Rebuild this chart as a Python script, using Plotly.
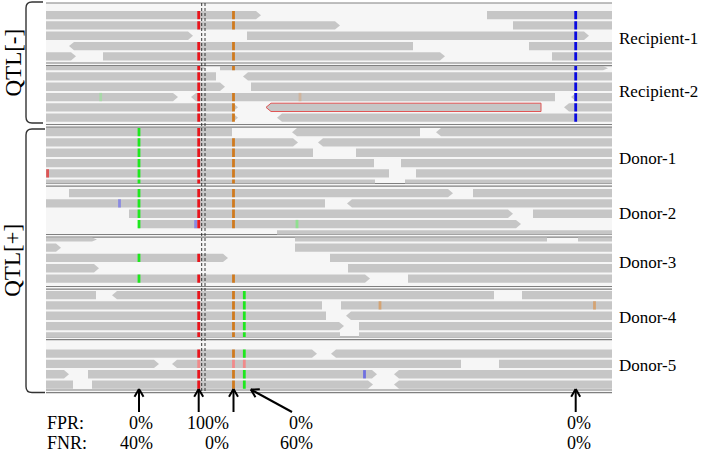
import math
import plotly.graph_objects as go

# ---------------- data ----------------
samples = ["Recipient-1", "Recipient-2", "Donor-1", "Donor-2", "Donor-3", "Donor-4", "Donor-5"]
groups = ["QTL[-]", "QTL[+]"]
group_members = [["Recipient-1", "Recipient-2"], ["Donor-1", "Donor-2", "Donor-3", "Donor-4", "Donor-5"]]

# reads per sample: rows of (start, end, strand); '+' arrow right, '-' arrow left, '' no arrow
reads = {
    "Recipient-1": [
        [(46, 261, '+'), (487, 612, '')],
        [(46, 340, '+'), (513, 612, '')],
        [(46, 193, '+'), (247, 589, '+')],
        [(69, 413, '-'), (529, 612, '')],
        [(46, 76, '+'), (103, 445, '+'), (552, 612, '')],
    ],
    "Recipient-2": [
        [(46, 206, '+'), (220, 608, '+')],
        [(46, 216, ''), (243, 612, '-')],
        [(46, 225, '+'), (251, 612, '')],
        [(46, 178, '+'), (191, 555, '-'), (571, 612, '-')],
        [(46, 238, '+'), (266, 541, '-'), (564, 612, '-')],
        [(46, 238, '+'), (277, 612, '-')],
    ],
    "Donor-1": [
        [(46, 232, ''), (292, 420, '-'), (436, 612, '-')],
        [(46, 298, '+'), (318, 612, '-')],
        [(46, 313, ''), (356, 612, '')],
        [(46, 374, ''), (401, 612, '')],
        [(46, 389, ''), (416, 612, '')],
        [(46, 375, ''), (405, 612, '')],
    ],
    "Donor-2": [
        [(69, 453, '+'), (473, 612, '')],
        [(46, 325, ''), (347, 612, '-')],
        [(129, 513, '+'), (533, 612, '')],
        [(138, 521, '+')],
        [(277, 612, '')],
    ],
    "Donor-3": [
        [(46, 97, '+'), (295, 547, ''), (578, 612, '')],
        [(46, 61, '+'), (295, 612, '')],
        [(46, 228, '+'), (330, 612, '')],
        [(46, 99, '+'), (348, 612, '')],
        [(46, 370, '+'), (408, 612, '')],
    ],
    "Donor-4": [
        [(46, 96, ''), (112, 494, '-'), (522, 612, '')],
        [(46, 322, ''), (341, 612, '')],
        [(46, 326, ''), (346, 612, '-')],
        [(46, 344, '+'), (359, 612, '')],
        [(46, 340, ''), (359, 612, '')],
    ],
    "Donor-5": [
        [(46, 317, '+'), (331, 612, '-')],
        [(46, 159, '+'), (172, 461, '-'), (499, 612, '')],
        [(46, 69, '+'), (88, 377, '+'), (394, 612, '-')],
        [(46, 73, ''), (92, 373, '+'), (394, 612, '-')],
    ],
}
# reads drawn with a red outline: (sample, row, read index)
outlined_reads = [("Recipient-2", 4, 1)]

# candidate variant columns
variant_pos = [139.0, 198.7, 233.5, 244.3, 575.7]
variant_colors = ["#1ee81e", "#e8141c", "#cf7a1f", "#1ee81e", "#0a0ae0"]
variant_samples = [
    ["Donor-1", "Donor-2", "Donor-3"],
    samples,
    samples,
    ["Donor-4", "Donor-5"],
    ["Recipient-1", "Recipient-2"],
]
variant_override = {("Donor-5", 1, 1): "#f08a8a"}

# isolated mismatches: (sample, row, position, colour)
extra_mismatches = [
    ("Recipient-2", 3, 100.7, "#a8d8a8"),
    ("Recipient-2", 3, 300.0, "#d0b49c"),
    ("Donor-1", 4, 47.6, "#dd5555"),
    ("Donor-2", 1, 119.5, "#8a8ae0"),
    ("Donor-2", 3, 195.6, "#8a8ae0"),
    ("Donor-2", 3, 297.0, "#8fe08f"),
    ("Donor-4", 1, 380.0, "#d4a373"),
    ("Donor-4", 1, 594.5, "#d4a373"),
    ("Donor-5", 2, 364.5, "#7070e0"),
]

# error rates at the annotated columns
rate_variant = [0, 1, 2, 3, 4]
fpr = ["0%", "100%", "0%", "0%"]
fnr = ["40%", "0%", "60%", "0%"]

# ---------------- layout helpers ----------------
PX0, PX1 = 46, 612
PITCH, ROW_H = 10.3, 8.3
first_row_top = {"Recipient-1": 11.0, "Recipient-2": 62.0, "Donor-1": 128.0, "Donor-2": 189.0,
                 "Donor-3": 233.2, "Donor-4": 291.0, "Donor-5": 349.5}
separators = [63.0, 124.5, 183.5, 234.5, 286.5, 337.0, 390.0]
TOP_LINE = 3.0
track_bounds = {}
prev = TOP_LINE + 0.5
for s, sep in zip(samples, separators):
    track_bounds[s] = (prev, sep)
    prev = sep + 3.0
label_y = {"Recipient-1": 38.5, "Recipient-2": 91.5, "Donor-1": 158, "Donor-2": 213.5,
           "Donor-3": 262.5, "Donor-4": 317.5, "Donor-5": 365.5}

READ_GRAY = "#c6c6c6"
BG = "#f6f6f6"
SEP = "#808080"


def row_span(s, r):
    y0 = first_row_top[s] + r * PITCH
    y1 = y0 + ROW_H
    lo, hi = track_bounds[s]
    return max(y0, lo), min(y1, hi)


def read_poly(x0, x1, strand, y0, y1):
    ym = (y0 + y1) / 2
    t = 5
    if strand == '+':
        pts = [(x0, y0), (x1 - t, y0), (x1, ym), (x1 - t, y1), (x0, y1)]
    elif strand == '-':
        pts = [(x0 + t, y0), (x1, y0), (x1, y1), (x0 + t, y1), (x0, ym)]
    else:
        pts = [(x0, y0), (x1, y0), (x1, y1), (x0, y1)]
    return pts


def add_polys(xs, ys, pts):
    for (a, b) in pts + [pts[0]]:
        xs.append(a)
        ys.append(b)
    xs.append(None)
    ys.append(None)


fig = go.Figure()

# panel background
fig.add_shape(type="rect", x0=PX0, x1=PX1, y0=TOP_LINE, y1=separators[-1] + 3,
              xref="x", yref="y", fillcolor=BG, line_width=0, layer="below")

# separators (below the reads; reads are clipped to their tracks)
fig.add_shape(type="line", x0=PX0, x1=PX1, y0=TOP_LINE, y1=TOP_LINE, xref="x", yref="y",
              line=dict(color=SEP, width=1.2), layer="below")
for sep in separators:
    for dy in (0, 2.6):
        fig.add_shape(type="line", x0=PX0, x1=PX1, y0=sep + dy, y1=sep + dy, xref="x", yref="y",
                      line=dict(color=SEP, width=1.1), layer="below")

# reads
rx, ry = [], []
ox, oy = [], []
for s in samples:
    for r, row in enumerate(reads[s]):
        y0, y1 = row_span(s, r)
        for k, (a, b, st) in enumerate(row):
            pts = read_poly(a, b, st, y0, y1)
            if (s, r, k) in outlined_reads:
                add_polys(ox, oy, pts)
            else:
                add_polys(rx, ry, pts)
fig.add_trace(go.Scatter(x=rx, y=ry, mode="lines", fill="toself", fillcolor=READ_GRAY,
                         line=dict(width=0, color=READ_GRAY), hoverinfo="skip"))
fig.add_trace(go.Scatter(x=ox, y=oy, mode="lines", fill="toself", fillcolor=READ_GRAY,
                         line=dict(width=1, color="#e05555"), hoverinfo="skip"))

# mismatches
BASE_W = 2.8
mm = {}
for pos, col, sset in zip(variant_pos, variant_colors, variant_samples):
    for s in sset:
        for r, row in enumerate(reads[s]):
            y0, y1 = row_span(s, r)
            for k, (a, b, st) in enumerate(row):
                if a < pos < b:
                    c = variant_override.get((s, r, k), col)
                    pts = [(pos - BASE_W / 2, y0), (pos + BASE_W / 2, y0),
                           (pos + BASE_W / 2, y1), (pos - BASE_W / 2, y1)]
                    mm.setdefault(c, ([], []))
                    add_polys(mm[c][0], mm[c][1], pts)
for s, r, pos, col in extra_mismatches:
    y0, y1 = row_span(s, r)
    pts = [(pos - BASE_W / 2, y0), (pos + BASE_W / 2, y0),
           (pos + BASE_W / 2, y1), (pos - BASE_W / 2, y1)]
    mm.setdefault(col, ([], []))
    add_polys(mm[col][0], mm[col][1], pts)
for col, (xs, ys) in mm.items():
    fig.add_trace(go.Scatter(x=xs, y=ys, mode="lines", fill="toself", fillcolor=col,
                             line=dict(width=0, color=col), hoverinfo="skip"))

# centre lines
for cx in (201.7, 205.0):
    fig.add_shape(type="line", x0=cx, x1=cx, y0=TOP_LINE, y1=separators[-1] + 1.5, xref="x", yref="y",
                  line=dict(color="#222222", width=0.9, dash="3px,2px"))

# sample labels
for s in samples:
    fig.add_annotation(x=617, y=label_y[s], text=s, showarrow=False, xanchor="left", yanchor="middle",
                       font=dict(family="Liberation Serif", size=17, color="black"))

# group brackets and labels
for g, mem in zip(groups, group_members):
    if g == "QTL[-]":
        top = track_bounds[mem[0]][0] - 1.5
        bot = separators[samples.index(mem[-1])] - 1.5
        xe = 43
    else:
        top = track_bounds[mem[0]][0] + 1.5
        bot = separators[-1] + 2.5
        xe = 45
    xv, rad = 26, 6
    path = (f"M {xe},{top} L {xv + rad},{top} Q {xv},{top} {xv},{top + rad} "
            f"L {xv},{bot - rad} Q {xv},{bot} {xv + rad},{bot} L {xe},{bot}")
    fig.add_shape(type="path", path=path, xref="x", yref="y", line=dict(color="#333333", width=1.4))
    fig.add_annotation(x=13, y=(top + bot) / 2, text=g, showarrow=False,
                       textangle=-90, xanchor="center", yanchor="middle",
                       font=dict(family="Liberation Serif", size=23, color="black"))

# bottom arrows
ax, ay = [], []
for i in rate_variant:
    px = variant_pos[i]
    if i == 3:
        sx, sy, tx, ty = 292, 412, px + 6.5, 389.5
    else:
        sx, sy, tx, ty = px, 412, px, 389
    ax += [sx, tx, None]
    ay += [sy, ty, None]
    ang = math.atan2(sy - ty, sx - tx)
    L, h = 9, math.radians(30)
    for d in (ang + h, ang - h):
        ax += [tx + L * math.cos(d), tx, None]
        ay += [ty + L * math.sin(d), ty, None]
fig.add_trace(go.Scatter(x=ax, y=ay, mode="lines", line=dict(color="black", width=2), hoverinfo="skip"))

# rate text
rate_x = [155, 231, 315, 593]
for lab, vals, yy in (("FPR:", fpr, 422.5), ("FNR:", fnr, 442.5)):
    fig.add_annotation(x=45, y=yy, text=lab, showarrow=False, xanchor="left", yanchor="middle",
                       font=dict(family="Liberation Serif", size=18, color="black"))
    for v, xx in zip(vals, rate_x):
        fig.add_annotation(x=xx, y=yy, text=v, showarrow=False, xanchor="right", yanchor="middle",
                           font=dict(family="Liberation Serif", size=18, color="black"))

fig.update_layout(width=709, height=456, margin=dict(l=0, r=0, t=0, b=0),
                  xaxis=dict(range=[0, 709], visible=False, fixedrange=True),
                  yaxis=dict(range=[456, 0], visible=False, fixedrange=True),
                  plot_bgcolor="white", paper_bgcolor="white", showlegend=False)
fig.write_html("out.html", config={"displayModeBar": False},
               post_script="document.body.style.margin='0';document.body.style.overflow='hidden';")
